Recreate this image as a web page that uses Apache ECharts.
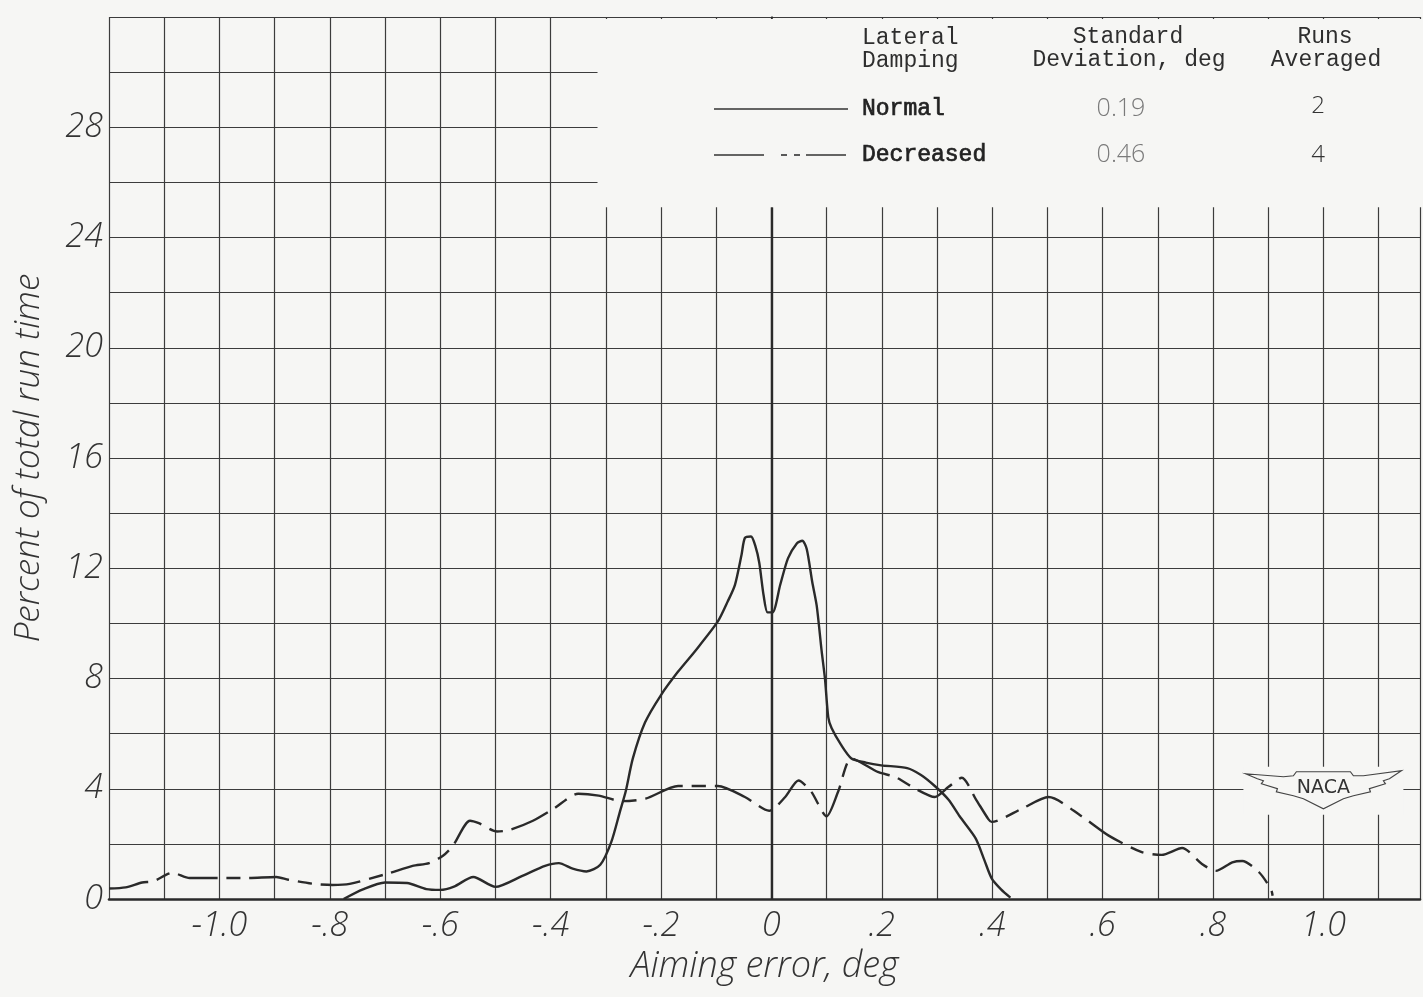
<!DOCTYPE html>
<html>
<head>
<meta charset="utf-8">
<script src="https://cdn.jsdelivr.net/npm/echarts@6/dist/echarts.min.js"></script>
<style>
html,body{margin:0;padding:0;background:#f6f6f4;}
#c{width:1423px;height:997px;}
</style>
</head>
<body>
<div id="c"></div>
<script>
// ---- data ----
const xLabelValues = [-1.0,-0.8,-0.6,-0.4,-0.2,0,0.2,0.4,0.6,0.8,1.0];
const xLabelTexts  = ['-1.0','-.8','-.6','-.4','-.2','0','.2','.4','.6','.8','1.0'];
const yLabelValues = [0,4,8,12,16,20,24,28];

const normalX = [-0.775,-0.74,-0.70,-0.66,-0.625,-0.60,-0.575,-0.54,-0.50,-0.45,-0.41,-0.385,-0.36,-0.335,-0.31,-0.29,-0.274,-0.264,-0.251,-0.229,-0.2,-0.169,-0.138,-0.097,-0.079,-0.066,-0.054,-0.048,-0.037,-0.029,-0.022,-0.014,-0.007,0.002,0.016,0.03,0.046,0.056,0.064,0.074,0.082,0.091,0.097,0.103,0.109,0.126,0.145,0.171,0.199,0.246,0.271,0.296,0.321,0.341,0.37,0.386,0.399,0.416,0.433];
const normalY = [0,0.35,0.6,0.58,0.36,0.33,0.45,0.8,0.44,0.85,1.2,1.3,1.1,1.0,1.24,2.07,3.2,3.9,5.1,6.4,7.4,8.25,9.0,10.07,10.8,11.4,12.5,13.1,13.15,12.8,12.2,11.0,10.4,10.4,11.4,12.36,12.9,13.0,12.7,11.5,10.65,9.0,8.0,6.6,6.2,5.6,5.1,4.95,4.85,4.75,4.5,4.1,3.6,3.0,2.2,1.4,0.75,0.35,0.05];

const decreasedX = [-1.2,-1.17,-1.14,-1.12,-1.085,-1.054,-1.0,-0.95,-0.897,-0.875,-0.83,-0.795,-0.764,-0.697,-0.65,-0.62,-0.595,-0.577,-0.546,-0.53,-0.497,-0.475,-0.432,-0.395,-0.35,-0.313,-0.271,-0.228,-0.169,-0.097,-0.048,-0.004,0.025,0.049,0.072,0.1,0.121,0.145,0.194,0.224,0.261,0.296,0.321,0.345,0.371,0.393,0.399,0.453,0.502,0.562,0.611,0.671,0.707,0.744,0.78,0.805,0.835,0.853,0.883,0.905,0.908];
const decreasedY = [0.38,0.42,0.6,0.64,0.95,0.76,0.76,0.76,0.8,0.7,0.55,0.51,0.55,0.91,1.2,1.3,1.57,1.93,2.84,2.75,2.45,2.5,2.84,3.27,3.82,3.75,3.55,3.64,4.1,4.1,3.7,3.2,3.7,4.3,3.9,3.0,3.9,5.1,4.6,4.43,4.0,3.7,4.07,4.4,3.6,2.9,2.8,3.27,3.7,3.0,2.3,1.7,1.6,1.85,1.27,1.02,1.33,1.38,0.98,0.36,0.12];

const legendNames  = ['Normal','Decreased'];
const legendStdDev = ['0.19','0.46'];
const legendRuns   = ['2','4'];
const legendHeader = [['Lateral','Damping'],['Standard','Deviation, deg'],['Runs','Averaged']];

// ---- build ----
const ink = '#2a2a2a';
const gridInk = '#3c3c3c';
const letterFont = "'Open Sans', 'DejaVu Sans', sans-serif";
const typeFont = "'Liberation Mono', 'DejaVu Sans Mono', monospace";

function pairs(xs, ys){ return xs.map((x,i)=>[x, ys[i]]); }
const xLabelMap = {};
xLabelValues.forEach((v,i)=>{ xLabelMap[Math.round(v*10)] = xLabelTexts[i]; });

const chart = echarts.init(document.getElementById('c'), null, {renderer:'canvas'});
const option = {
  backgroundColor: '#f6f6f4',
  animation: false,
  grid: {left: 109, right: 0, top: 17, bottom: 98, containLabel: false},
  xAxis: {
    type: 'value', min: -1.2, max: 1.175, interval: 0.1,
    name: 'Aiming error, deg', nameLocation: 'middle', nameGap: 50,
    nameTextStyle: {fontFamily: letterFont, fontStyle: 'italic', fontWeight: 300, fontSize: 36, color: '#333'},
    axisLine: {show: true, onZero: false, lineStyle: {color: ink, width: 2.6}},
    axisTick: {show: false},
    axisLabel: {
      margin: 10, fontFamily: letterFont, fontStyle: 'italic', fontWeight: 300, fontSize: 34, color: '#333',
      formatter: function(v){ const k = Math.round(v*10); if (Math.abs(v*10-k) > 1e-6) return ''; return xLabelMap[k] !== undefined ? xLabelMap[k] : ''; }
    },
    splitLine: {show: true, lineStyle: {color: gridInk, width: 1.2}}
  },
  yAxis: {
    type: 'value', min: 0, max: 32, interval: 2,
    name: 'Percent of total run time', nameLocation: 'middle', nameGap: 62,
    nameTextStyle: {fontFamily: letterFont, fontStyle: 'italic', fontWeight: 300, fontSize: 35, color: '#333'},
    axisLine: {show: true, lineStyle: {color: ink, width: 1.6}},
    axisTick: {show: false},
    axisLabel: {
      margin: 6, fontFamily: letterFont, fontStyle: 'italic', fontWeight: 300, fontSize: 34, color: '#333',
      formatter: function(v){ const r = Math.round(v); return yLabelValues.indexOf(r) >= 0 && Math.abs(v-r) < 1e-6 ? String(r) : ''; }
    },
    splitLine: {show: true, lineStyle: {color: gridInk, width: 1.2}}
  },
  series: [
    {
      name: 'Normal', type: 'line', data: pairs(normalX, normalY),
      showSymbol: false, smooth: 0.25, z: 5,
      lineStyle: {color: ink, width: 2.4},
      markLine: {
        silent: true, symbol: 'none', label: {show: false},
        lineStyle: {color: ink, width: 2.4, type: 'solid'},
        data: [[{coord: [0, 0]}, {coord: [0, 25.1]}]]
      }
    },
    {
      name: 'Decreased', type: 'line', data: pairs(decreasedX, decreasedY),
      showSymbol: false, smooth: 0.25, z: 5,
      lineStyle: {color: ink, width: 2.4, type: [40, 9, 14, 9]}
    }
  ]
};
chart.setOption(option);

// blank legend area (grid lines are not ruled there on the original sheet)
const pA = chart.convertToPixel({gridIndex: 0}, [-0.315, 31.93]);
const pB = chart.convertToPixel({gridIndex: 0}, [1.175, 25.1]);
const logoC = chart.convertToPixel({gridIndex: 0}, [1.0, 4]);
const bg = '#f6f6f4';
const g = [];
g.push({type: 'rect', z: 50, shape: {x: pA[0], y: pA[1], width: pB[0]-pA[0]+2, height: pB[1]-pA[1]}, style: {fill: bg}});

function txt(x, y, s, align, font, size, color, weight, border){
  const st = {text: s, align: align, verticalAlign: 'middle', fontFamily: font, fontSize: size, fill: color, fontWeight: weight || 'normal'};
  if (border) { st.stroke = color; st.lineWidth = border; }
  g.push({type: 'text', z: 51, x: x, y: y, style: st});
}
// header
txt(862, 38, legendHeader[0][0], 'left', typeFont, 23, '#2e2e2e');
txt(862, 61, legendHeader[0][1], 'left', typeFont, 23, '#2e2e2e');
txt(1128, 37, legendHeader[1][0], 'center', typeFont, 23, '#2e2e2e');
txt(1129, 60, legendHeader[1][1], 'center', typeFont, 23, '#2e2e2e');
txt(1325, 37, legendHeader[2][0], 'center', typeFont, 23, '#2e2e2e');
txt(1326, 60, legendHeader[2][1], 'center', typeFont, 23, '#2e2e2e');
const rowY = [109, 155];
legendNames.forEach((n, i) => {
  txt(862, rowY[i], n, 'left', typeFont, 23, '#222', 'normal', 0.7);
  txt(1121, rowY[i], legendStdDev[i], 'center', letterFont, 25, '#7a7a7a', 300);
  txt(1318, rowY[i] - (i === 0 ? 3 : 0), legendRuns[i], 'center', letterFont, 24, '#333', 300);
});
// legend samples
g.push({type: 'line', z: 51, shape: {x1: 714, y1: 109, x2: 848, y2: 109}, style: {stroke: '#333', lineWidth: 1.4}});
[[714, 764], [781, 787], [794, 800], [806, 846]].forEach(s => {
  g.push({type: 'line', z: 51, shape: {x1: s[0], y1: 155, x2: s[1], y2: 155}, style: {stroke: '#333', lineWidth: 1.6}});
});

// NACA wings mark
const cx = logoC[0], cy = logoC[1];
g.push({type: 'rect', z: 50, shape: {x: cx - 80, y: cy - 22, width: 160, height: 48}, style: {fill: bg}});
const wing = [[-78,-15],[-40,-12],[-30,-13],[-27,-17],[27,-17],[30,-13],[40,-13],[78,-18],[66,-10],[60,-8],[62,-5],[46,0],[47,3],[30,7],[20,10],[0,20],[-20,10],[-30,7],[-47,3],[-46,0],[-62,-5],[-60,-8],[-66,-10]];
g.push({type: 'polygon', z: 51, shape: {points: wing.map(p => [cx + p[0], cy + p[1]])}, style: {fill: bg, stroke: '#444', lineWidth: 1.2}});
txt(cx, cy - 1, 'NACA', 'center', "'DejaVu Sans', sans-serif", 19, '#333');

chart.setOption({graphic: g});
</script>
</body>
</html>
